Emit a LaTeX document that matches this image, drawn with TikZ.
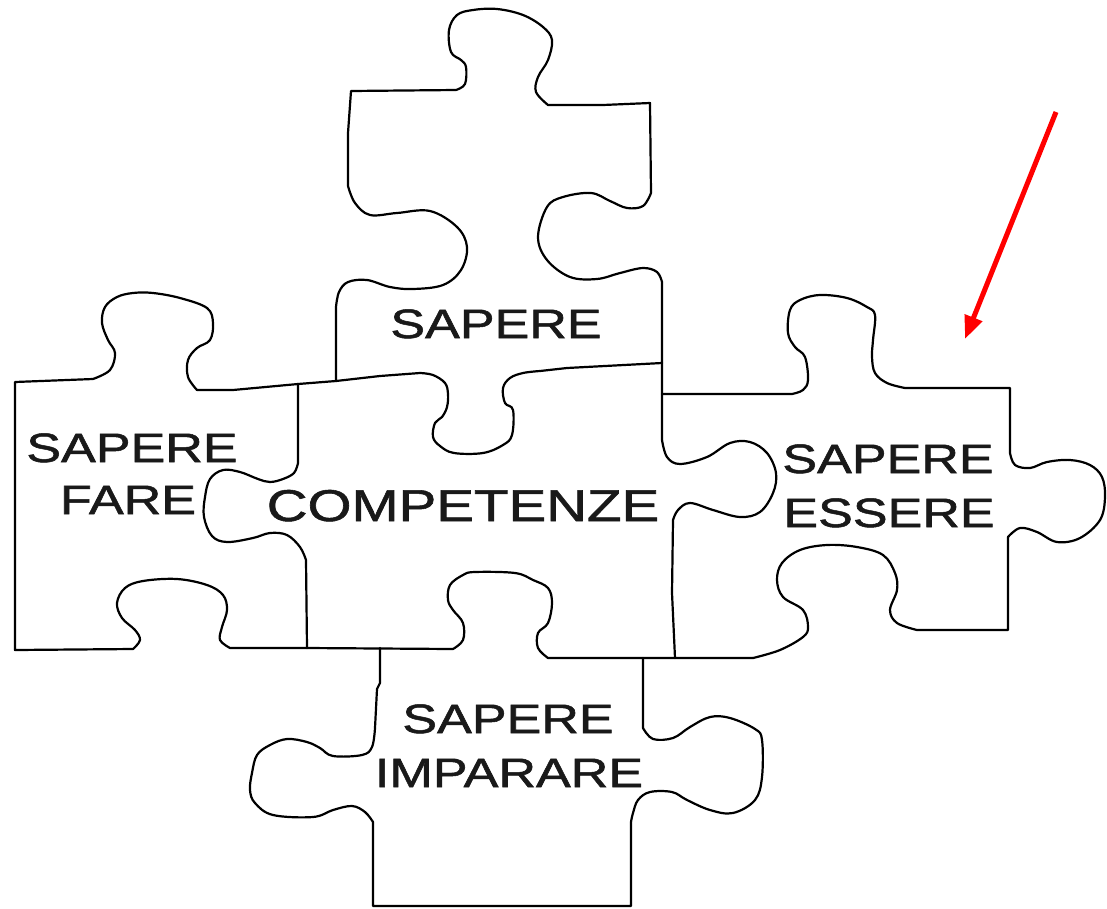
\documentclass[tikz,border=0pt]{standalone}
\usepackage{fontspec}
\usepackage{graphicx}
\setmainfont{Liberation Sans}
\newfontfamily\lblfont{Liberation Sans}[FakeBold=1.2]
\usetikzlibrary{arrows.meta}
\tikzset{
  edge/.style={line width=2.2pt, black, line join=round, line cap=round},
  lbl/.style={font=\lblfont\fontsize{41}{41}\selectfont, inner sep=0pt, anchor=base, text=black!90},
  biglbl/.style={lbl, font=\lblfont\fontsize{44.5}{44.5}\selectfont},
  redarrow/.style={line width=5pt, red, -{Triangle[length=23pt,width=18pt]}}
}
\newcommand{\wide}[1]{\scalebox{1.27}[1]{#1}}
\begin{document}
\begin{tikzpicture}[x=1pt,y=-1pt]
\useasboundingbox (0,0) rectangle (1107,908);
\fill[white] (0,0) rectangle (1107,908);

% SAPERE outer outline
\draw[edge] (336,381) -- (336,307) -- plot[smooth,tension=.6] coordinates {(336,307) (339,292) (348,282) (367,280) (390,287) (413,289) (443,285) (461,270) (467,247) (457,227) (430,211) (397,213) (370,215) (355,203) (348,186)} -- (348,133) -- (351,91) -- (456,90) -- plot[smooth,tension=.6] coordinates {(456,90) (465,84) (466,67) (461,60) (451,52) (449,30) (457,15) (473,10) (497,9) (523,15) (543,27) (552,40) (548,60) (538,77) (536,92) (548,105)} -- (603,105) -- (650,103) -- (651,193) -- plot[smooth,tension=.6] coordinates {(651,193) (643,206) (627,208) (610,201) (591,193) (563,197) (547,207) (538,237) (547,260) (570,277) (597,279) (620,273) (643,268) (657,272) (662,282)} -- (662,363);

% SAPERE bottom / COMPETENZE top
\draw[edge] (298,384) -- (336,381) -- (380,376) -- (420,373) -- plot[smooth,tension=.6] coordinates {(420,373) (433,375) (445,383) (448,394) (447,407) (442,417) (435,423) (433,437) (440,446) (454,453) (483,453) (503,445) (512,435) (513,410) (505,403) (503,388) (510,378) (523,373) (540,371)} -- (567,368) -- (662,363);

% SAPERE FARE outline
\draw[edge] (298,384) -- (233,390) -- (197,390) -- plot[smooth,tension=.6] coordinates {(197,390) (188,377) (188,360) (197,348) (210,340) (213,323) (207,308) (180,298) (153,293) (133,293) (117,297) (105,307) (102,323) (108,340) (115,353) (110,370) (93,379)} -- (15,382) -- (15,650) -- (133,649) -- plot[smooth,tension=.6] coordinates {(133,649) (140,640) (135,630) (122,618) (117,603) (125,588) (143,581) (177,579) (207,585) (223,595) (227,610) (222,627) (220,640) (230,648)} -- (307,648);

% SAPERE FARE / COMPETENZE
\draw[edge] (298,384) -- (298,463) -- plot[smooth,tension=.6] coordinates {(298,463) (294,473) (283,479) (270,482) (258,479) (240,472) (223,470) (210,479) (205,497) (204,517) (212,536) (227,542) (253,538) (270,533) (287,535) (300,547) (306,560)} -- (307,648);

% COMPETENZE bottom / SAPERE IMPARARE top
\draw[edge] (307,648) -- (453,649) -- plot[smooth,tension=.6] coordinates {(453,649) (463,640) (463,623) (453,610) (448,600) (450,585) (463,575) (475,572) (515,573) (533,580) (548,588) (552,603) (548,623) (538,633) (538,648) (548,658)} -- (675,658) -- (753,658);

% COMPETENZE / SAPERE ESSERE
\draw[edge] (662,363) -- (662,440) -- plot[smooth,tension=.6] coordinates {(662,440) (667,457) (680,464) (707,457) (730,443) (750,442) (767,453) (776,473) (773,493) (760,512) (740,517) (713,510) (690,503) (678,510) (673,520)} -- (672,593) -- (675,658);

% SAPERE ESSERE outline
\draw[edge] (662,394) -- (792,394) -- plot[smooth,tension=.6] coordinates {(792,394) (803,390) (808,380) (805,357) (795,347) (788,333) (790,310) (800,300) (820,295) (847,298) (867,307) (875,315) (873,340) (872,357) (875,373) (887,383) (905,388)} -- (1010,388) -- (1010,453) -- plot[smooth,tension=.6] coordinates {(1010,453) (1015,465) (1030,468) (1047,462) (1070,460) (1090,465) (1102,477) (1105,497) (1100,520) (1080,538) (1057,542) (1037,532) (1020,528) (1008,537)} -- (1008,630) -- (917,630) -- plot[smooth,tension=.6] coordinates {(917,630) (897,623) (890,610) (897,590) (895,573) (883,555) (857,547) (827,545) (800,550) (782,563) (777,580) (783,597) (803,610) (808,627) (803,637) (780,650) (753,658)};

% SAPERE IMPARARE outline
\draw[edge] (380,648) -- (380,683) -- (377,689) -- (375,728) -- plot[smooth,tension=.6] coordinates {(375,728) (372,747) (362,755) (333,756) (320,748) (307,742) (287,739) (270,745) (257,755) (252,773) (250,790) (255,803) (273,815) (313,817) (333,810) (352,806) (365,812) (373,822)} -- (373,906) -- (631,906) -- (631,822) -- plot[smooth,tension=.6] coordinates {(631,822) (633,813) (638,800) (650,792) (672,792) (687,800) (710,810) (733,813) (755,800) (762,777) (762,740) (755,729) (730,718) (710,717) (690,727) (673,738) (653,739) (643,728)} -- (643,658);

% labels
\node[lbl] (sap) at (496,338) {\wide{SAPERE}};
\node[lbl] (fare1) at (132,462) {\wide{SAPERE}};
\node[lbl] (fare2) at (128,514) {\wide{FARE}};
\node[biglbl] (comp) at (463,521) {\wide{COMPETENZE}};
\node[lbl] (ess1) at (888,473) {\wide{SAPERE}};
\node[lbl] (ess2) at (889,527) {\wide{ESSERE}};
\node[lbl] (imp1) at (508,733) {\wide{SAPERE}};
\node[lbl] (imp2) at (509,787) {\wide{IMPARARE}};

% red arrow
\coordinate (arrS) at (1056,112);
\coordinate (arrE) at (965,339);
\draw[redarrow] (arrS) -- (arrE);
\end{tikzpicture}
\end{document}
